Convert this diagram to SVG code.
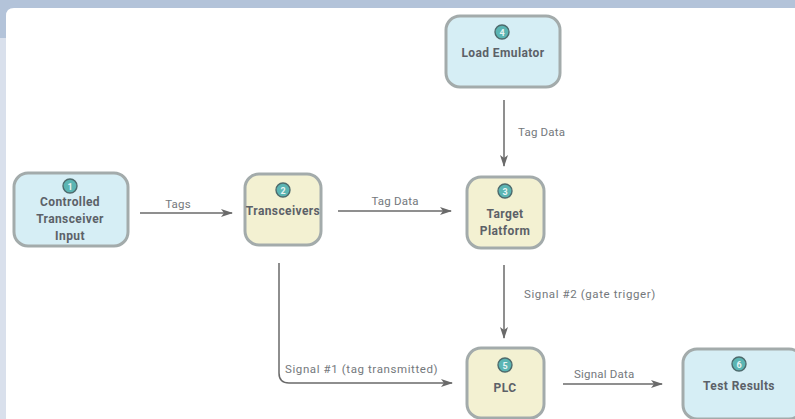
<svg xmlns="http://www.w3.org/2000/svg" width="795" height="419" viewBox="0 0 795 419">
<defs>
<style>
.node{stroke:#a3abab;stroke-width:3}
.blue{fill:#d6eef5}
.yel{fill:#f3f1d2}
.badge{fill:#5bb5b3;stroke:#4d6a6c;stroke-width:1.4}
.num{font-family:Roboto,"Liberation Sans",sans-serif;font-size:9px;font-weight:bold;fill:#e8f4f4;text-anchor:middle}
.title{font-family:Roboto,"Liberation Sans",sans-serif;font-size:12px;font-weight:bold;letter-spacing:0.4px;fill:#5c6168;text-anchor:middle}
.lbl{font-family:Roboto,"Liberation Sans",sans-serif;font-size:11.5px;letter-spacing:0.2px;fill:#74787c}
.wide{letter-spacing:0.6px}
.edge{fill:none;stroke:#6a6a6a;stroke-width:1.5}
</style>
<marker id="ah" markerWidth="12" markerHeight="8" refX="11" refY="4" orient="auto" markerUnits="userSpaceOnUse">
<path d="M0,0 L12,4 L0,8 L3,4 Z" fill="#6a6a6a"/>
</marker>
</defs>
<rect x="0" y="0" width="795" height="419" fill="#d9e0ec"/>
<rect x="0" y="0" width="795" height="38" fill="#b3c3d9"/>
<path d="M6,419 V16 Q6,8 14,8 H795 V419 Z" fill="#ffffff"/>

<g id="connectors">
<line class="edge" x1="140" y1="213" x2="232" y2="213" marker-end="url(#ah)"/>
<text class="lbl" x="178" y="208" text-anchor="middle">Tags</text>
<line class="edge" x1="338" y1="211" x2="451" y2="211" marker-end="url(#ah)"/>
<text class="lbl" x="395" y="205" text-anchor="middle">Tag Data</text>
<line class="edge" x1="504" y1="100" x2="504" y2="166" marker-end="url(#ah)"/>
<text class="lbl" x="518" y="136">Tag Data</text>
<line class="edge" x1="504" y1="265" x2="504" y2="338" marker-end="url(#ah)"/>
<text class="lbl wide" x="524" y="298">Signal #2 (gate trigger)</text>
<path class="edge" d="M279,263 V373 Q279,383 289,383 H452" marker-end="url(#ah)"/>
<text class="lbl wide" x="285" y="373">Signal #1 (tag transmitted)</text>
<line class="edge" x1="563" y1="384" x2="662" y2="384" marker-end="url(#ah)"/>
<text class="lbl" x="574" y="378">Signal Data</text>
</g>

<g id="node1">
<rect class="node blue" x="14" y="173" width="114" height="73" rx="14"/>
<circle class="badge" cx="70" cy="186" r="7"/>
<text class="num" x="70" y="189.5">1</text>
<text class="title" x="70" y="206">Controlled</text>
<text class="title" x="70" y="223">Transceiver</text>
<text class="title" x="70" y="240">Input</text>
</g>
<g id="node2">
<rect class="node yel" x="245" y="174" width="76" height="71" rx="14"/>
<circle class="badge" cx="283" cy="190" r="7"/>
<text class="num" x="283" y="193.5">2</text>
<text class="title" x="283" y="215">Transceivers</text>
</g>
<g id="node3">
<rect class="node yel" x="467" y="177" width="77" height="71" rx="14"/>
<circle class="badge" cx="505" cy="191" r="7"/>
<text class="num" x="505" y="194.5">3</text>
<text class="title" x="505" y="218">Target</text>
<text class="title" x="505" y="235">Platform</text>
</g>
<g id="node4">
<rect class="node blue" x="446" y="16" width="114" height="71" rx="14"/>
<circle class="badge" cx="502" cy="32" r="7"/>
<text class="num" x="502" y="35.5">4</text>
<text class="title" x="503" y="57">Load Emulator</text>
</g>
<g id="node5">
<rect class="node yel" x="467" y="348" width="77" height="70" rx="14"/>
<circle class="badge" cx="505" cy="365" r="7"/>
<text class="num" x="505" y="368.5">5</text>
<text class="title" x="505" y="392">PLC</text>
</g>
<g id="node6">
<rect class="node blue" x="683" y="349" width="120" height="70" rx="14"/>
<circle class="badge" cx="739" cy="364" r="7"/>
<text class="num" x="739" y="367.5">6</text>
<text class="title" x="739" y="390">Test Results</text>
</g>
</svg>
